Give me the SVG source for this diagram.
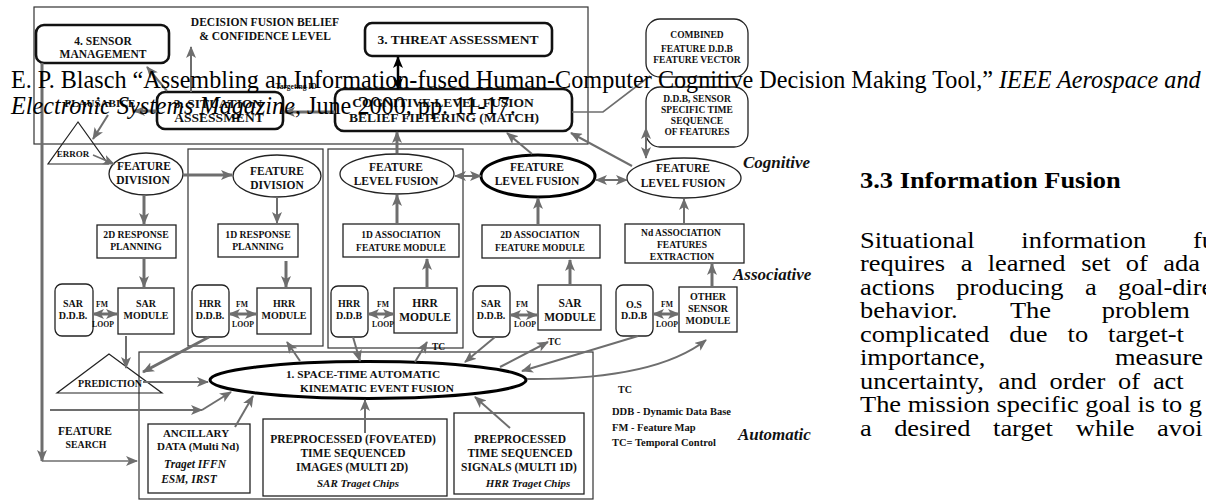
<svg xmlns="http://www.w3.org/2000/svg" width="1206" height="502" viewBox="0 0 1206 502">
<defs>
<marker id="ah" markerUnits="userSpaceOnUse" markerWidth="12" markerHeight="10" refX="11" refY="5" orient="auto-start-reverse"><path d="M0,0 L12,5 L0,10 L3,5 z" fill="#6e6e6e"/></marker>
<marker id="ahk" markerUnits="userSpaceOnUse" markerWidth="12" markerHeight="10" refX="11" refY="5" orient="auto-start-reverse"><path d="M0,0 L12,5 L0,10 L3,5 z" fill="#000"/></marker>
</defs>
<style>
.t{font-family:"Liberation Serif","Times New Roman",serif;font-weight:bold;fill:#111;text-anchor:middle}
.it{font-style:italic}
.box{fill:#fff;stroke:#222;stroke-width:1.3}
.rb{fill:#fff;stroke:#222;stroke-width:1.3}
.thick{fill:#fff;stroke:#111;stroke-width:2.6}
.frame{fill:none;stroke:#333;stroke-width:1.2}
.ar{fill:none;stroke:#6e6e6e;stroke-width:2;marker-end:url(#ah)}
.w3{stroke-width:3}
.w1{stroke-width:1.5}
.dbl{marker-start:url(#ah)}
.ln{fill:none;stroke:#6e6e6e;stroke-width:1.6}
.cap{font-family:"Liberation Serif","Times New Roman",serif;font-size:24.2px;fill:#000}
.body{font-family:"Liberation Serif","Times New Roman",serif;font-size:23px;fill:#000}
</style>
<rect width="1206" height="502" fill="#fff"/>

<g id="frames">
<rect class="frame" x="34" y="7" width="554" height="137"/>
<rect class="frame" x="188" y="149" width="135" height="197"/>
<rect class="frame" x="328" y="149" width="135" height="199"/>
<rect class="frame" x="139" y="352" width="454" height="147"/>
</g>

<g id="sensor-management"><rect class="thick" x="36" y="25" width="133" height="38" rx="8"/>
<text class="t" font-size="11.5" x="103" y="45">4. SENSOR</text><text class="t" font-size="11.5" x="103" y="58">MANAGEMENT</text></g>
<g id="decision-label"><text class="t" font-size="11.5" x="265" y="26">DECISION FUSION BELIEF</text><text class="t" font-size="11.5" x="265" y="40">&amp; CONFIDENCE LEVEL</text></g>
<g id="threat"><rect class="thick" x="365" y="23" width="187" height="33" rx="7"/>
<text class="t" font-size="13.5" x="458" y="44">3. THREAT ASSESSMENT</text></g>
<g id="situation"><rect class="thick" x="157" y="92" width="126" height="37" rx="8"/>
<text class="t" font-size="13.5" x="218" y="108">3. SITUATION</text><text class="t" font-size="13.5" x="219" y="122">ASSESSMENT</text></g>
<g id="cognitive"><rect class="thick" x="335" y="89" width="237" height="42" rx="9"/>
<text class="t" font-size="13.5" x="443" y="107">COGNITIVE LEVEL FUSION</text><text class="t" font-size="13.5" x="444" y="122">BELIEF FILTERING (MATCH)</text></g>
<g id="targeting"><text class="t" font-size="7.5" x="296" y="89">Targeting ID</text></g>
<g id="plausabice"><text class="t" font-size="11" x="100" y="107">PLAUSABICE</text></g>
<g id="error"><polygon points="78,122 48,164 108,164" fill="none" stroke="#222" stroke-width="1.2"/><text class="t" font-size="9" x="73" y="157">ERROR</text></g>
<g id="combined"><rect class="rb" x="646" y="19" width="102" height="58" rx="14"/>
<text class="t" font-size="9.5" x="697" y="38">COMBINED</text><text class="t" font-size="9.5" x="697" y="52">FEATURE D.D.B</text><text class="t" font-size="9.5" x="697" y="63">FEATURE VECTOR</text></g>
<g id="ddb-sensor"><rect class="rb" x="646" y="87" width="102" height="60" rx="14"/>
<text class="t" font-size="9.5" x="697" y="102">D.D.B,  SENSOR</text><text class="t" font-size="9.5" x="697" y="113">SPECIFIC TIME</text><text class="t" font-size="9.5" x="697" y="124">SEQUENCE</text><text class="t" font-size="9.5" x="697" y="135">OF FEATURES</text></g>

<g id="feature-division-1"><ellipse cx="146" cy="174" rx="37" ry="21" fill="#fff" stroke="#222" stroke-width="1.3"/>
<text class="t" font-size="11.5" x="144" y="170">FEATURE</text><text class="t" font-size="11.5" x="143" y="184">DIVISION</text></g>
<g id="feature-division-2"><ellipse cx="277" cy="176" rx="44" ry="21" fill="#fff" stroke="#222" stroke-width="1.3"/>
<text class="t" font-size="11.5" x="277" y="175">FEATURE</text><text class="t" font-size="11.5" x="277" y="189">DIVISION</text></g>
<g id="flf-1"><ellipse cx="397" cy="174" rx="57" ry="20" fill="#fff" stroke="#222" stroke-width="1.3"/>
<text class="t" font-size="11.5" x="396" y="171">FEATURE</text><text class="t" font-size="11.5" x="396" y="185">LEVEL FUSION</text></g>
<g id="flf-2"><ellipse cx="538" cy="176" rx="57" ry="21" fill="#fff" stroke="#000" stroke-width="3"/>
<text class="t" font-size="11.5" x="537" y="171">FEATURE</text><text class="t" font-size="11.5" x="537" y="185">LEVEL FUSION</text></g>
<g id="flf-3"><ellipse cx="684" cy="178" rx="57" ry="20" fill="#fff" stroke="#222" stroke-width="1.3"/>
<text class="t" font-size="11.5" x="683" y="172">FEATURE</text><text class="t" font-size="11.5" x="683" y="187">LEVEL FUSION</text></g>
<g id="cognitive-label"><text class="t it" font-size="17" x="743" y="168" style="text-anchor:start">Cognitive</text></g>

<g id="resp-2d"><rect class="box" x="97" y="225" width="79" height="33"/><text class="t" font-size="9.7" x="136" y="238">2D RESPONSE</text><text class="t" font-size="9.7" x="136" y="250">PLANNING</text></g>
<g id="resp-1d"><rect class="box" x="218" y="224" width="80" height="33"/><text class="t" font-size="9.7" x="258" y="238">1D RESPONSE</text><text class="t" font-size="9.7" x="258" y="250">PLANNING</text></g>
<g id="assoc-1d"><rect class="box" x="343" y="224" width="116" height="33"/><text class="t" font-size="9.5" x="401" y="238">1D ASSOCIATION</text><text class="t" font-size="9.5" x="401" y="251">FEATURE  MODULE</text></g>
<g id="assoc-2d"><rect class="box" x="482" y="225" width="118" height="33"/><text class="t" font-size="9.5" x="540" y="238">2D ASSOCIATION</text><text class="t" font-size="9.5" x="540" y="251">FEATURE  MODULE</text></g>
<g id="assoc-nd"><rect class="box" x="625" y="224" width="119" height="39"/><text class="t" font-size="9.5" x="681" y="236">Nd  ASSOCIATION</text><text class="t" font-size="9.5" x="682" y="248">FEATURES</text><text class="t" font-size="9.5" x="682" y="260">EXTRACTION</text></g>
<g id="associative-label"><text class="t it" font-size="17" x="733" y="280" style="text-anchor:start">Associative</text></g>

<g id="sar-ddb-1"><rect class="rb" x="55" y="284" width="38" height="52" rx="7"/><text class="t" font-size="10" x="73" y="307">SAR</text><text class="t" font-size="10" x="73" y="319">D.D.B.</text></g>
<g id="sar-module-1"><rect class="box" x="118" y="288" width="56" height="46"/><text class="t" font-size="10" x="146" y="307">SAR</text><text class="t" font-size="10" x="146" y="319">MODULE</text></g>
<g id="hrr-ddb-2"><rect class="rb" x="192" y="285" width="37" height="52" rx="7"/><text class="t" font-size="10" x="210" y="307">HRR</text><text class="t" font-size="10" x="210" y="319">D.D.B.</text></g>
<g id="hrr-module-2"><rect class="box" x="257" y="288" width="54" height="46"/><text class="t" font-size="10" x="284" y="307">HRR</text><text class="t" font-size="10" x="284" y="319">MODULE</text></g>
<g id="hrr-ddb-3"><rect class="rb" x="331" y="286" width="37" height="51" rx="7"/><text class="t" font-size="10" x="349" y="307">HRR</text><text class="t" font-size="10" x="349" y="319">D.D.B</text></g>
<g id="hrr-module-3"><rect class="box" x="394" y="288" width="63" height="45"/><text class="t" font-size="11.5" x="425" y="307">HRR</text><text class="t" font-size="11.5" x="425" y="321">MODULE</text></g>
<g id="sar-ddb-4"><rect class="rb" x="473" y="286" width="37" height="51" rx="7"/><text class="t" font-size="10" x="491" y="307">SAR</text><text class="t" font-size="10" x="491" y="319">D.D.B.</text></g>
<g id="sar-module-4"><rect class="box" x="538" y="285" width="63" height="45"/><text class="t" font-size="11.5" x="570" y="307">SAR</text><text class="t" font-size="11.5" x="570" y="321">MODULE</text></g>
<g id="os-ddb"><rect class="rb" x="616" y="285" width="37" height="51" rx="7"/><text class="t" font-size="10" x="634" y="308">O.S</text><text class="t" font-size="10" x="634" y="319">D.D.B</text></g>
<g id="other-sensor"><rect class="box" x="679" y="287" width="58" height="45"/><text class="t" font-size="10" x="708" y="300">OTHER</text><text class="t" font-size="10" x="708" y="312">SENSOR</text><text class="t" font-size="10" x="708" y="324">MODULE</text></g>
<g id="fm-labels">
<text class="t" font-size="7.7" x="102" y="307">FM</text><text class="t" font-size="7.7" x="103" y="327">LOOP</text>
<text class="t" font-size="7.7" x="242" y="307">FM</text><text class="t" font-size="7.7" x="243" y="327">LOOP</text>
<text class="t" font-size="7.7" x="383" y="307">FM</text><text class="t" font-size="7.7" x="383" y="327">LOOP</text>
<text class="t" font-size="7.7" x="522" y="307">FM</text><text class="t" font-size="7.7" x="525" y="327">LOOP</text>
<text class="t" font-size="7.7" x="667" y="307">FM</text><text class="t" font-size="7.7" x="667" y="327">LOOP</text>
</g>

<g id="prediction"><polygon points="109,354 57,393 162,393" fill="none" stroke="#222" stroke-width="1.2"/><text class="t" font-size="10" x="110" y="387">PREDICTION</text></g>
<g id="space-time"><ellipse cx="368" cy="380" rx="158" ry="18.5" fill="#fff" stroke="#000" stroke-width="3"/>
<text class="t" font-size="11.3" x="363" y="378">1. SPACE-TIME AUTOMATIC</text><text class="t" font-size="11.3" x="377" y="392">KINEMATIC EVENT FUSION</text></g>
<g id="feature-search"><text class="t" font-size="11.5" x="85" y="435">FEATURE</text><text class="t" font-size="9.8" x="86" y="448">SEARCH</text></g>
<g id="ancillary"><rect class="box" x="148" y="424" width="102" height="69"/>
<text class="t" font-size="11" x="196" y="437">ANCILLARY</text><text class="t" font-size="11" x="198" y="450">DATA (Multi  Nd)</text><text class="t it" font-size="11.5" x="195" y="468">Traget IFFN</text><text class="t it" font-size="11.5" x="189" y="483">ESM, IRST</text></g>
<g id="preproc-images"><rect class="box" x="263" y="419" width="184" height="77"/>
<text class="t" font-size="11.5" x="353" y="443">PREPROCESSED (FOVEATED)</text><text class="t" font-size="11.5" x="353" y="457">TIME SEQUENCED</text><text class="t" font-size="11.5" x="352" y="471">IMAGES (MULTI 2D)</text><text class="t it" font-size="11" x="358" y="487">SAR Traget Chips</text></g>
<g id="preproc-signals"><rect class="box" x="454" y="413" width="130" height="81"/>
<text class="t" font-size="11.5" x="520" y="443">PREPROCESSED</text><text class="t" font-size="11.5" x="520" y="457">TIME SEQUENCED</text><text class="t" font-size="11.5" x="519" y="471">SIGNALS (MULTI 1D)</text><text class="t it" font-size="11" x="528" y="487">HRR Traget Chips</text></g>
<g id="legend">
<text class="t" font-size="10" x="618" y="393" style="text-anchor:start">TC</text>
<text class="t" font-size="10.5" x="612" y="415" style="text-anchor:start">DDB - Dynamic Data Base</text>
<text class="t" font-size="10.5" x="612" y="431" style="text-anchor:start">FM - Feature Map</text>
<text class="t" font-size="10.5" x="612" y="446" style="text-anchor:start">TC= Temporal Control</text>
</g>
<g id="automatic-label"><text class="t it" font-size="17" x="738" y="440" style="text-anchor:start">Automatic</text></g>
<g id="tc-labels"><text class="t" font-size="9.5" x="432" y="350" style="text-anchor:start">TC</text><text class="t" font-size="9.5" x="548" y="345" style="text-anchor:start">TC</text></g>

<g id="connectors">
<line class="ar" x1="191" y1="92" x2="191" y2="47"/>
<line class="ar" x1="167" y1="91" x2="147" y2="67"/>
<line class="ar w3" x1="335" y1="112" x2="284" y2="112"/>
<line class="ar w3" x1="157" y1="111" x2="134" y2="111"/>
<line class="ar" x1="108" y1="115" x2="93" y2="139"/>
<line x1="398" y1="57" x2="398" y2="89" stroke="#000" stroke-width="2.5" marker-start="url(#ahk)" marker-end="url(#ahk)"/>
<line class="ar w1" x1="93" y1="155" x2="114" y2="164"/>
<line class="ar w3" x1="183" y1="175" x2="232" y2="175"/>
<line class="ar w3" x1="144" y1="195" x2="144" y2="224"/>
<line class="ar w3" x1="144" y1="259" x2="144" y2="287"/>
<line class="ar w3 dbl" x1="93" y1="314" x2="117" y2="314"/>
<line class="ar" x1="277" y1="197" x2="277" y2="223"/>
<line class="ar w3" x1="286" y1="261" x2="286" y2="287"/>
<line class="ar w3 dbl" x1="229" y1="314" x2="256" y2="314"/>
<line class="ar w3" x1="397" y1="223" x2="397" y2="195"/>
<line class="ar w3" x1="397" y1="153" x2="397" y2="132"/>
<line class="ar w3 dbl" x1="368" y1="314" x2="394" y2="314"/>
<line class="ar w3" x1="427" y1="287" x2="427" y2="259"/>
<line class="ar dbl" x1="455" y1="176" x2="481" y2="176"/>
<line class="ar w3" x1="538" y1="225" x2="538" y2="198"/>
<line class="ar" x1="532" y1="154" x2="507" y2="133"/>
<line class="ar w3 dbl" x1="510" y1="315" x2="537" y2="315"/>
<line class="ar w3" x1="570" y1="285" x2="570" y2="260"/>
<line class="ar dbl" x1="596" y1="180" x2="627" y2="180"/>
<line class="ar" x1="684" y1="224" x2="684" y2="199"/>
<line class="ar" x1="632" y1="166" x2="571" y2="133"/>
<line class="ar dbl" x1="646" y1="128" x2="646" y2="158"/>
<polyline class="ln" points="572,112 603,112 650,76"/>
<line class="ar w3 dbl" x1="653" y1="314" x2="679" y2="314"/>
<line class="ar w3" x1="712" y1="287" x2="712" y2="264"/>
<line class="ar" x1="126" y1="336" x2="126" y2="368"/>
<line class="ar w3" x1="209" y1="337" x2="143" y2="372"/>
<line class="ar" x1="143" y1="382" x2="208" y2="382"/>
<line class="ar" x1="50" y1="410" x2="202" y2="410"/>
<line class="ar" x1="202" y1="410" x2="231" y2="392"/>
<line class="ar" x1="235" y1="427" x2="253" y2="396"/>
<line class="ar" x1="365" y1="433" x2="365" y2="400"/>
<line class="ar" x1="510" y1="428" x2="475" y2="397"/>
<line class="ar" x1="300" y1="361" x2="287" y2="342"/>
<line class="ar" x1="353" y1="337" x2="360" y2="361"/>
<line class="ar" x1="415" y1="362" x2="427" y2="342"/>
<line class="ar" x1="495" y1="337" x2="465" y2="362"/>
<line class="ar" x1="500" y1="367" x2="548" y2="342"/>
<line class="ar" x1="638" y1="336" x2="522" y2="371"/>
<path class="ar" d="M527,379 Q655,380 706,340"/>
<line class="ar w3" x1="42" y1="63" x2="42" y2="461"/>
<line class="ar w1" x1="42" y1="461" x2="137" y2="461"/>
</g>

<g id="caption">
<text class="cap" x="11" y="88">E. P. Blasch “Assembling an Information-fused Human-Computer Cognitive Decision Making Tool,” <tspan font-style="italic">IEEE Aerospace and</tspan></text>
<text class="cap" x="11" y="114"><tspan font-style="italic">Electronic Systems Magazine</tspan>, June 2000, pp. 11-17.</text>
</g>

<g id="section-text" transform="matrix(1.15,0,0,1,-129,0)">
<text class="body" font-weight="bold" x="860" y="188">3.3 Information Fusion</text>
<text class="body" y="248"><tspan x="860">Situational</tspan><tspan x="1000.3">information</tspan><tspan x="1149.6">fu</tspan></text>
<text class="body" y="271"><tspan x="860">requires</tspan><tspan x="947.6">a</tspan><tspan x="971.1">learned</tspan><tspan x="1052.3">set</tspan><tspan x="1091.1">of</tspan><tspan x="1123.7">ada</tspan></text>
<text class="body" y="295"><tspan x="860">actions</tspan><tspan x="943.7">producing</tspan><tspan x="1055.7">a</tspan><tspan x="1084.3">goal-dire</tspan></text>
<text class="body" y="318"><tspan x="860">behavior.</tspan><tspan x="990.4">The</tspan><tspan x="1070.3">problem</tspan></text>
<text class="body" y="342"><tspan x="860">complicated</tspan><tspan x="989.9">due</tspan><tspan x="1040.5">to</tspan><tspan x="1075.7">target-t</tspan></text>
<text class="body" y="365"><tspan x="860">importance,</tspan><tspan x="1081.7">measure</tspan></text>
<text class="body" y="389"><tspan x="860">uncertainty,</tspan><tspan x="980.4">and</tspan><tspan x="1024.8">order</tspan><tspan x="1084.4">of</tspan><tspan x="1114.7">act</tspan></text>
<text class="body" x="860" y="412">The mission specific goal is to g</text>
<text class="body" y="436"><tspan x="860">a</tspan><tspan x="889.7">desired</tspan><tspan x="975.7">target</tspan><tspan x="1047.7">while</tspan><tspan x="1118.3">avoi</tspan></text>
</g>
</svg>
